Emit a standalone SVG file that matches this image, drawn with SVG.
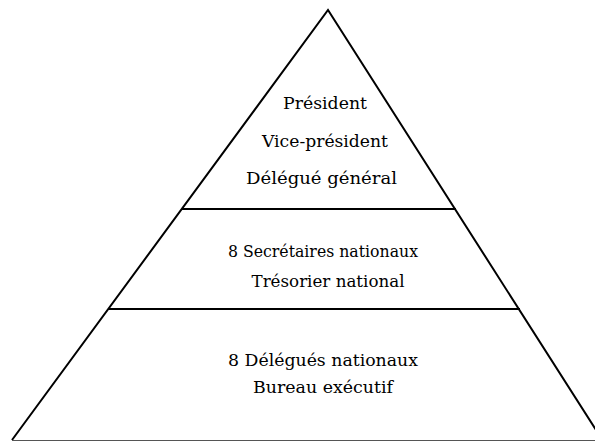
<svg xmlns="http://www.w3.org/2000/svg" width="595" height="441" viewBox="0 0 595 441">
<style>
.edge{stroke:#000;stroke-width:2;fill:none;stroke-linecap:butt}
.t{font-family:"DejaVu Serif","Liberation Serif",serif;font-size:16.5px;fill:#000;text-anchor:middle}
</style>
<rect width="595" height="441" fill="#fff"/>
<g id="pyramid">
<path class="edge" d="M12,440 L328,10 L603,441"/>
<line class="edge" x1="182" y1="209" x2="456" y2="209"/>
<line class="edge" x1="108" y1="309" x2="520" y2="309"/>
<line x1="12" y1="440.5" x2="595" y2="440.5" stroke="#555" stroke-width="1"/>
</g>
<g id="tier-top">
<text class="t" x="325" y="109" textLength="84" lengthAdjust="spacingAndGlyphs">Président</text>
<text class="t" x="325" y="147" textLength="126" lengthAdjust="spacingAndGlyphs">Vice-président</text>
<text class="t" x="321.5" y="184" textLength="151" lengthAdjust="spacingAndGlyphs">Délégué général</text>
</g>
<g id="tier-middle">
<text class="t" x="323" y="257" textLength="190" lengthAdjust="spacingAndGlyphs">8 Secrétaires nationaux</text>
<text class="t" x="328" y="287" textLength="153" lengthAdjust="spacingAndGlyphs">Trésorier national</text>
</g>
<g id="tier-bottom">
<text class="t" x="323" y="366" textLength="190" lengthAdjust="spacingAndGlyphs">8 Délégués nationaux</text>
<text class="t" x="323" y="393" textLength="140" lengthAdjust="spacingAndGlyphs">Bureau exécutif</text>
</g>
</svg>
